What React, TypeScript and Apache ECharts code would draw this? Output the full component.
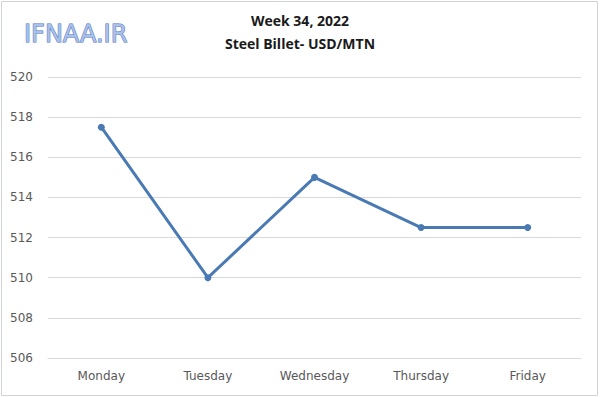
import React, { useEffect, useRef } from "react";
import * as echarts from "echarts";

const categories = ["Monday", "Tuesday", "Wednesday", "Thursday", "Friday"];
const prices = [517.5, 510, 515, 512.5, 512.5];
const yTicks = { min: 506, max: 520, interval: 2 };
const titleLines = ["Week 34, 2022", "Steel Billet- USD/MTN"];
const logoText = "IFNAA.IR";

export default function App() {
  const ref = useRef<HTMLDivElement>(null);
  useEffect(() => {
    if (!ref.current) return;
    const chart = echarts.init(ref.current, null, { renderer: "svg" });
    chart.setOption({
      animation: false,
      backgroundColor: "#ffffff",
      grid: { left: 48, right: 19, top: 77, bottom: 39 },
      graphic: [
        {
          type: "rect",
          shape: { x: 1.5, y: 1.5, width: 596, height: 394 },
          style: { fill: "none", stroke: "#d0d4da", lineWidth: 1 },
          silent: true,
        },
        {
          type: "text",
          x: 24,
          y: 22,
          style: {
            text: logoText,
            font: "24px 'DejaVu Sans'",
            fill: "#a9c0ea",
            stroke: "#4c6fb8",
            lineWidth: 1,
          },
        },
        {
          type: "text",
          x: 300,
          y: 13,
          style: {
            text: titleLines[0],
            font: "bold 14px 'Open Sans'",
            fill: "#1a1a1a",
            align: "center",
          },
        },
        {
          type: "text",
          x: 300,
          y: 36,
          style: {
            text: titleLines[1],
            font: "bold 14px 'Open Sans'",
            fill: "#1a1a1a",
            align: "center",
          },
        },
      ],
      xAxis: {
        type: "category",
        data: categories,
        boundaryGap: true,
        axisLine: { show: true, lineStyle: { color: "#d9d9d9" } },
        axisTick: { show: false },
        axisLabel: { color: "#595959", fontSize: 12, margin: 12, fontFamily: "'DejaVu Sans'" },
        splitLine: { show: false },
      },
      yAxis: {
        type: "value",
        min: yTicks.min,
        max: yTicks.max,
        interval: yTicks.interval,
        axisLine: { show: false },
        axisTick: { show: false },
        axisLabel: { color: "#595959", fontSize: 12, margin: 15, fontFamily: "'DejaVu Sans'" },
        splitLine: { lineStyle: { color: "#d9d9d9", width: 1 } },
      },
      series: [
        {
          type: "line",
          data: prices,
          symbol: "circle",
          symbolSize: 7,
          lineStyle: { color: "#4a7ab4", width: 3 },
          itemStyle: { color: "#4a7ab4" },
        },
      ],
    });
    return () => chart.dispose();
  }, []);
  return (
    <div
      ref={ref}
      style={{ position: "fixed", left: 0, top: 0, width: 600, height: 397 }}
    />
  );
}
